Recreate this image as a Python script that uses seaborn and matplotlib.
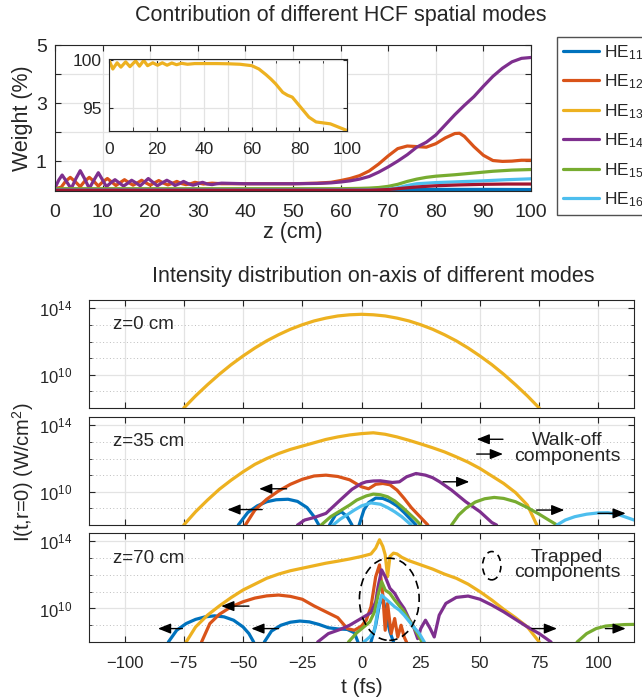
import numpy as np
import pandas as pd
import matplotlib
matplotlib.use("Agg")
import matplotlib.pyplot as plt
from matplotlib.patches import Ellipse
from matplotlib.lines import Line2D
import seaborn as sns

# ---- mode names / colours (MATLAB default order) ----
modes = ["HE11", "HE12", "HE13", "HE14", "HE15", "HE16", "HE17"]
labels = ["HE$_{11}$", "HE$_{12}$", "HE$_{13}$", "HE$_{14}$", "HE$_{15}$", "HE$_{16}$", "HE$_{17}$"]
colors = ["#0072BD", "#D95319", "#EDB120", "#7E2F8E", "#77AC30", "#4DBEEE", "#A2142F"]

# ---- top panel: weight (%) vs z (cm) ----
w11_z = [0, 20, 40, 60, 70, 75, 80, 90, 100]
w11_v = [0.01, 0.01, 0.01, 0.01, 0.015, 0.02, 0.025, 0.025, 0.02]
w12_z = [0, 1.3, 2.2, 3.2, 4.2, 5.3, 6.2, 7.2, 8.2, 9.1, 10.0, 11.0, 11.9, 12.8, 13.7, 14.6, 15.5, 16.4,
         17.3, 18.2, 19.1, 20.0, 20.9, 21.8, 22.8, 23.7, 24.6, 25.6, 26.5, 27.5, 28.5, 29.4, 31.2, 33, 35,
         40, 45, 50, 55, 58, 60, 62, 64, 66, 68, 70, 72, 74, 76, 78, 80, 82, 84, 85, 86, 88, 90, 92, 94, 96, 98, 100]
w12_v = [0.05, 0.1, 0.3, 0.44, 0.3, 0.12, 0.3, 0.44, 0.3, 0.14, 0.28, 0.4, 0.28, 0.16, 0.26, 0.36, 0.26, 0.17,
         0.25, 0.34, 0.25, 0.17, 0.25, 0.33, 0.24, 0.18, 0.23, 0.3, 0.23, 0.19, 0.22, 0.27, 0.21, 0.24, 0.22,
         0.22, 0.22, 0.22, 0.24, 0.27, 0.33, 0.4, 0.5, 0.66, 0.9, 1.18, 1.43, 1.52, 1.5, 1.48, 1.6, 1.8, 1.95, 1.96, 1.85, 1.5, 1.2, 1.02, 0.99, 1.0, 1.03, 1.03]
w13_z = [0, 1.6, 3.4, 5.0, 7.0, 8.8, 11.2, 12.8, 14.6, 16.2, 18.4, 20.4, 22.4, 24.4, 26.4, 28.4, 30.4, 33, 36,
         40, 45, 50, 55, 60, 63, 66, 68, 70, 73, 75, 77, 80, 82, 84, 87, 90, 93, 97, 100]
w13_v = [100.0, 99.05, 99.7, 99.25, 99.8, 99.3, 99.9, 99.35, 99.95, 99.4, 99.7, 99.45, 99.7, 99.45, 99.68, 99.5,
         99.65, 99.55, 99.62, 99.62, 99.62, 99.6, 99.55, 99.4, 99.05, 98.45, 98.0, 97.5, 96.6, 96.3, 96.1, 95.2,
         94.6, 94.0, 93.5, 93.4, 93.3, 92.9, 92.6]
w14_z = [0, 0.8, 1.5, 2.4, 3.4, 4.4, 5.3, 6.2, 7.2, 8.2, 9.1, 10.0, 10.8, 11.7, 12.6, 13.5, 14.4, 15.2, 16.1,
         17.0, 17.9, 18.8, 19.6, 20.5, 21.5, 22.5, 23.5, 24.4, 25.2, 26.1, 27, 28, 29, 30, 31, 32, 33, 34, 35,
         40, 45, 50, 55, 58, 60, 62, 64, 66, 68, 70, 72, 74, 76, 78, 80, 82, 84, 86, 88, 90, 92, 94, 96, 98, 100]
w14_v = [0.08, 0.35, 0.52, 0.3, 0.05, 0.4, 0.67, 0.4, 0.06, 0.35, 0.6, 0.35, 0.12, 0.25, 0.36, 0.25, 0.14, 0.23, 0.34,
         0.25, 0.15, 0.28, 0.4, 0.28, 0.15, 0.25, 0.34, 0.26, 0.16, 0.22, 0.3, 0.22, 0.17, 0.22, 0.27, 0.21, 0.19, 0.22, 0.24,
         0.22, 0.22, 0.22, 0.23, 0.25, 0.28, 0.32, 0.38, 0.47, 0.62, 0.8, 1.0, 1.22, 1.48, 1.65, 1.9, 2.25, 2.6, 2.92, 3.22,
         3.58, 3.92, 4.2, 4.42, 4.54, 4.57]
w15_z = [0, 20, 40, 60, 64, 66, 68, 70, 72, 74, 76, 78, 80, 84, 88, 92, 96, 100]
w15_v = [0.05, 0.05, 0.05, 0.05, 0.06, 0.07, 0.09, 0.13, 0.2, 0.3, 0.38, 0.44, 0.48, 0.53, 0.59, 0.65, 0.69, 0.71]
w16_z = [0, 40, 66, 70, 72, 74, 76, 80, 85, 90, 95, 100]
w16_v = [0.01, 0.01, 0.01, 0.03, 0.08, 0.16, 0.22, 0.26, 0.29, 0.32, 0.36, 0.39]
w17_z = [0, 40, 66, 70, 72, 74, 76, 80, 85, 90, 95, 100]
w17_v = [0.0, 0.0, 0.0, 0.02, 0.05, 0.08, 0.11, 0.15, 0.18, 0.2, 0.21, 0.21]

# ---- bottom panels: log10 intensity vs t (fs) ----
# z = 0 cm
z0_13_t = [-75, -70, -65, -60, -55, -50, -45, -40, -35, -30, -25, -20, -15, -10, -5, 0,
           5, 10, 15, 20, 25, 30, 35, 40, 45, 50, 55, 60, 65, 70, 75]
z0_13_v = [8.0, 8.73, 9.4, 10.03, 10.61, 11.13, 11.61, 12.04, 12.41, 12.74, 13.01, 13.24, 13.41, 13.54, 13.61, 13.64,
           13.61, 13.54, 13.41, 13.24, 13.01, 12.74, 12.41, 12.04, 11.61, 11.13, 10.61, 10.03, 9.4, 8.73, 8.0]

# z = 35 cm
z35_11a_t = [-52, -48, -44, -40, -36, -31, -27, -23, -20, -18]
z35_11a_v = [8.0, 8.75, 9.15, 9.4, 9.52, 9.55, 9.42, 9.05, 8.5, 8.0]
z35_11b_t = [-13.5, -11, -8.5, -6, -4]
z35_11b_v = [8.0, 8.6, 8.8, 8.5, 8.0]
z35_11c_t = [-1, 1, 3, 6, 9, 12, 15, 18, 21, 23]
z35_11c_v = [8.0, 8.9, 9.35, 9.62, 9.6, 9.42, 9.15, 8.75, 8.3, 8.0]
z35_12_t = [-49, -45, -40, -35, -30, -25, -20, -15, -10, -5, 0, 3, 6, 9, 12, 15, 18, 21, 24, 26, 28]
z35_12_v = [8.0, 8.9, 9.55, 10.05, 10.45, 10.75, 10.95, 11.0, 10.92, 10.72, 10.3, 10.18, 10.45, 10.5, 10.42,
            10.1, 9.6, 9.05, 8.6, 8.3, 8.0]
z35_13_t = [-75, -70, -65, -60, -55, -50, -45, -40, -35, -30, -25, -20, -15, -10, -5, 0,
            5, 10, 15, 20, 25, 30, 35, 40, 45, 50, 55, 60, 65, 70, 74]
z35_13_v = [8.0, 8.8, 9.5, 10.15, 10.7, 11.2, 11.65, 12.0, 12.3, 12.55, 12.75, 12.95, 13.15, 13.3, 13.42, 13.5,
            13.55, 13.46, 13.3, 13.1, 12.88, 12.65, 12.4, 12.1, 11.78, 11.4, 10.95, 10.5, 9.95, 9.2, 8.0]
z35_14_t = [-27, -24, -20, -15, -9, -4, 0, 2, 5, 8, 11, 13, 16, 19, 23, 27, 30, 33, 38, 44, 50, 55, 57]
z35_14_v = [8.0, 8.3, 8.45, 8.7, 9.5, 10.15, 10.5, 10.6, 10.65, 10.66, 10.6, 10.56, 10.6, 10.9, 11.1, 11.0,
            10.85, 10.6, 10.1, 9.4, 8.8, 8.15, 8.0]
z35_15a_t = [-17, -13, -9, -5, -2, 2, 5, 8, 11, 14, 17, 20, 23, 25]
z35_15a_v = [8.0, 8.5, 8.85, 9.2, 9.5, 9.75, 9.86, 9.82, 9.7, 9.45, 9.1, 8.7, 8.3, 8.0]
z35_15b_t = [38, 41, 44, 48, 52, 56, 60, 65, 70, 75, 79, 82.5]
z35_15b_v = [8.0, 8.6, 9.0, 9.38, 9.58, 9.66, 9.6, 9.4, 9.05, 8.65, 8.3, 8.0]
z35_16a_t = [-12, -9, -6, -3, 0, 4, 8, 11, 14, 17, 19, 21]
z35_16a_v = [8.0, 8.35, 8.62, 8.9, 9.15, 9.33, 9.25, 9.05, 8.8, 8.5, 8.25, 8.0]
z35_16b_t = [82.5, 86, 90, 95, 100, 104, 108, 112, 115]
z35_16b_v = [8.0, 8.3, 8.5, 8.65, 8.73, 8.74, 8.65, 8.45, 8.3]

# z = 70 cm
z70_11a_t = [-81.5, -78, -74, -70, -66, -62, -58, -54, -50, -47.5, -45.5]
z70_11a_v = [8.0, 8.7, 9.1, 9.35, 9.5, 9.56, 9.5, 9.3, 8.9, 8.5, 8.0]
z70_11b_t = [-41, -38, -34, -30, -26, -22, -18, -14, -10, -6, -3, -1.5]
z70_11b_v = [8.0, 8.65, 9.0, 9.18, 9.25, 9.2, 9.05, 8.85, 8.78, 8.75, 8.55, 8.0]
z70_11c_t = [4, 6, 7.5, 9, 10.5, 12, 13.5]
z70_11c_v = [8.0, 9.0, 10.2, 10.7, 9.5, 8.6, 8.0]
z70_12_t = [-67.5, -64, -60, -55, -50, -45, -40, -35, -30, -25, -20, -15, -10, -6, -3, 0, 2, 4, 6, 7.6,
            9, 10, 11, 12.5, 14, 15.3, 16.7, 18, 19]
z70_12_v = [8.0, 9.1, 9.65, 10.1, 10.4, 10.62, 10.75, 10.8, 10.72, 10.55, 10.15, 9.8, 9.45, 8.8, 8.7, 8.95, 9.3,
            10.1, 11.9, 12.6, 10.8, 8.7, 10.3, 8.5, 9.4, 8.3, 9.0, 8.3, 8.0]
z70_13_t = [-74, -70, -65, -60, -55, -50, -45, -40, -35, -30, -25, -20, -15, -10, -5, 0, 4, 6, 7.6, 9, 10,
            11, 12, 13.5, 15, 17, 20, 25, 30, 35, 40, 45, 50, 55, 60, 65, 70, 75]
z70_13_v = [8.0, 8.9, 9.6, 10.15, 10.65, 11.1, 11.45, 11.8, 12.05, 12.25, 12.4, 12.55, 12.7, 12.82, 12.95, 13.1,
            13.25, 13.6, 14.1, 13.7, 13.2, 11.9, 13.1, 13.3, 13.25, 13.05, 12.85, 12.6, 12.35, 12.05, 11.8, 11.45,
            11.0, 10.5, 9.95, 9.45, 8.9, 8.0]
z70_14_t = [-18.5, -14, -9, -5, -2, 1, 4, 6, 7, 8.5, 10, 12, 14, 16, 18, 20, 22, 23.7, 25, 27, 29, 30.7,
            32.8, 35.6, 40, 45, 50, 55, 60, 65, 70, 75, 80]
z70_14_v = [8.0, 8.5, 8.75, 9.0, 9.25, 9.5, 9.75, 10.4, 11.3, 12.3, 11.9, 11.2, 10.9, 10.4, 10.0, 9.4, 8.9, 8.2,
            8.8, 9.3, 8.8, 8.3, 9.6, 10.3, 10.66, 10.74, 10.55, 10.2, 9.8, 9.35, 8.9, 8.5, 8.0]
z70_15a_t = [-5.5, -2, 1, 3.5, 5.5, 7, 8.5, 10, 12, 14, 16, 18, 20, 22, 24, 25.5]
z70_15a_v = [8.0, 8.55, 8.9, 9.2, 9.8, 10.8, 11.6, 11.1, 10.9, 10.5, 10.15, 9.8, 9.35, 8.9, 8.4, 8.0]
z70_15b_t = [91, 95, 99, 103, 107, 111, 115]
z70_15b_v = [8.0, 8.5, 8.8, 8.95, 9.0, 9.04, 9.05]
z70_16_t = [1, 3.5, 5.5, 7, 8.5, 10, 12, 14, 16, 18, 20, 22, 24.4, 26.5]
z70_16_v = [8.0, 8.3, 8.7, 10.0, 10.8, 10.6, 10.35, 10.1, 9.9, 9.6, 9.25, 8.9, 8.5, 8.0]

# walk-off arrows: tail t, head t, log10 level
z35_arr_tail = [59.7, 48.6, -41.9, -31.6, 34.4, 73.9, 99.8]
z35_arr_head = [48.6, 59.7, -56.6, -43.2, 45.5, 85.6, 111.5]
z35_arr_lev = [13.16, 12.27, 8.93, 10.18, 10.6, 8.9, 8.7]
z70_arr_tail = [-47.5, -75.6, -35.0, 71.9, 102.9]
z70_arr_head = [-59.2, -85.9, -46.5, 82.5, 111.5]
z70_arr_lev = [10.14, 8.8, 8.8, 8.8, 8.8]

panel_names = ["z=0 cm", "z=35 cm", "z=70 cm"]


def long_frame(series, xname):
    rows = []
    for k, (mode, xs, vs) in enumerate(series):
        rows.append(pd.DataFrame({xname: xs, "val": vs, "mode": mode, "seg": k}))
    return pd.concat(rows, ignore_index=True)


sns.set_style("ticks")
plt.rcParams["font.family"] = ["Liberation Sans", "DejaVu Sans"]
plt.rcParams["mathtext.default"] = "regular"
plt.rcParams["axes.edgecolor"] = "#262626"
plt.rcParams["axes.linewidth"] = 0.8

palette = dict(zip(modes, colors))
LW = 2.3
GRID = "#e3e3e3"

fig = plt.figure(figsize=(6.42, 7.0), dpi=100)

# ---------------- top panel ----------------
ax0 = fig.add_axes([55 / 642, 1 - 191 / 700, 476 / 642, 146 / 700])
top = long_frame([("HE11", w11_z, w11_v), ("HE12", w12_z, w12_v), ("HE13", w13_z, w13_v),
                  ("HE14", w14_z, w14_v), ("HE15", w15_z, w15_v), ("HE16", w16_z, w16_v),
                  ("HE17", w17_z, w17_v)], "z")
sns.lineplot(data=top, x="z", y="val", hue="mode", units="seg", estimator=None, palette=palette,
             hue_order=modes, lw=LW, legend=False, ax=ax0, sort=False)
ax0.set_xlim(0, 100)
ax0.set_ylim(-0.03, 5)
ax0.set_xticks(np.arange(0, 101, 10))
ax0.set_yticks([1, 2, 3, 4, 5])
ax0.set_yticklabels(["1", "", "3", "", "5"])
ax0.grid(True, color=GRID, lw=0.9)
ax0.tick_params(direction="in", top=True, right=True, labelsize=14, length=4, pad=6)
ax0.tick_params(axis="x", pad=9)
ax0.set_xlabel("z (cm)", fontsize=15.5, labelpad=1)
ax0.set_ylabel("")
fig.text(23 / 642, 1 - 118 / 700, "Weight (%)", rotation=90, ha="center", va="center", fontsize=15.5)
fig.text(341 / 642, 1 - 15 / 700, "Contribution of different HCF spatial modes",
         ha="center", va="center", fontsize=15.5)

# inset
axi = fig.add_axes([109 / 642, 1 - 131 / 700, 238 / 642, 72 / 700])
ins = long_frame([("HE13", w13_z, w13_v)], "z")
sns.lineplot(data=ins, x="z", y="val", color=colors[2], lw=LW, ax=axi, sort=False, estimator=None)
axi.set_xlim(0, 100)
axi.set_ylim(92.55, 100.1)
axi.set_xticks(np.arange(0, 101, 20))
axi.set_xticks(np.arange(0, 101, 10), minor=True)
axi.set_yticks([95, 100])
axi.grid(True, which="both", color=GRID, lw=0.9)
axi.tick_params(which="both", direction="in", top=True, right=True, labelsize=12.5, length=3, pad=5)
axi.tick_params(axis="x", pad=8)
axi.set_xlabel("")
axi.set_ylabel("")

# legend (partly outside the figure, as in the reference)
handles = [Line2D([], [], color=c, lw=LW) for c in colors[:6]]
fig.legend(handles, labels[:6], loc="upper left", bbox_to_anchor=(557 / 642, 1 - 37 / 700),
           fontsize=12.5, frameon=True, fancybox=False, edgecolor="#262626", handlelength=2.05,
           labelspacing=0.62, borderpad=0.35, handletextpad=0.3, borderaxespad=0)

# ---------------- bottom panels ----------------
z35_series = [("HE11", z35_11a_t, z35_11a_v), ("HE11", z35_11b_t, z35_11b_v), ("HE11", z35_11c_t, z35_11c_v),
              ("HE12", z35_12_t, z35_12_v), ("HE13", z35_13_t, z35_13_v), ("HE14", z35_14_t, z35_14_v),
              ("HE15", z35_15a_t, z35_15a_v), ("HE15", z35_15b_t, z35_15b_v),
              ("HE16", z35_16a_t, z35_16a_v), ("HE16", z35_16b_t, z35_16b_v)]
z70_series = [("HE11", z70_11a_t, z70_11a_v), ("HE11", z70_11b_t, z70_11b_v), ("HE11", z70_11c_t, z70_11c_v),
              ("HE12", z70_12_t, z70_12_v), ("HE13", z70_13_t, z70_13_v), ("HE14", z70_14_t, z70_14_v),
              ("HE15", z70_15a_t, z70_15a_v), ("HE15", z70_15b_t, z70_15b_v), ("HE16", z70_16_t, z70_16_v)]
panels = [[("HE13", z0_13_t, z0_13_v)], z35_series, z70_series]
tops = [300, 417, 533]
bots = [408, 525, 642]

axes = []
for i, series in enumerate(panels):
    ax = fig.add_axes([89 / 642, 1 - bots[i] / 700, 545 / 642, (bots[i] - tops[i]) / 700])
    df = long_frame(series, "t")
    df["I"] = 10.0 ** df["val"]
    sns.lineplot(data=df, x="t", y="I", hue="mode", units="seg", estimator=None, palette=palette,
                 hue_order=modes[:6], lw=LW, legend=False, ax=ax, sort=False)
    ax.set_yscale("log")
    ax.set_xlim(-115, 115)
    ax.set_ylim(1e8, 10 ** 14.5)
    ax.set_xticks(np.arange(-100, 101, 25))
    ax.set_yticks([1e10, 1e14])
    ax.set_yticks([1e9, 1e11, 1e12, 1e13], minor=True)
    ax.yaxis.set_minor_formatter(plt.NullFormatter())
    ax.grid(True, which="major", color=GRID, lw=0.9)
    ax.grid(True, which="minor", axis="y", color="#bdbdbd", lw=0.7, ls=(0, (1, 2.5)))
    ax.tick_params(which="both", direction="in", top=True, right=True, labelsize=12, length=4)
    ax.tick_params(axis="y", pad=12)
    ax.tick_params(axis="x", pad=10)
    ax.tick_params(which="minor", length=2)
    ax.set_xlabel("")
    ax.set_ylabel("")
    if i < 2:
        ax.set_xticklabels([])
    ax.text(-105, 10 ** 13.0, panel_names[i], fontsize=13.5, va="center", ha="left")
    axes.append(ax)

axes[2].set_xlabel("t (fs)", fontsize=15, labelpad=5)
fig.text(373 / 642, 1 - 276 / 700, "Intensity distribution on-axis of different modes",
         ha="center", va="center", fontsize=15.5)
fig.text(23 / 642, 1 - 472 / 700, "I(t,r=0) (W/cm$^2$)", rotation=90, ha="center", va="center", fontsize=14.5)

arrow_kw = dict(arrowstyle="-|>,head_length=0.55,head_width=0.22", color="k", lw=1.0,
                shrinkA=0, shrinkB=0, mutation_scale=14)
for tail, head, lev in zip(z35_arr_tail, z35_arr_head, z35_arr_lev):
    axes[1].annotate("", xy=(head, 10 ** lev), xytext=(tail, 10 ** lev), arrowprops=arrow_kw)
for tail, head, lev in zip(z70_arr_tail, z70_arr_head, z70_arr_lev):
    axes[2].annotate("", xy=(head, 10 ** lev), xytext=(tail, 10 ** lev), arrowprops=arrow_kw)

axes[1].text(86.7, 10 ** 12.6, "Walk-off\ncomponents", ha="center", va="center", fontsize=14, linespacing=0.9)
axes[2].text(86.7, 10 ** 12.6, "Trapped\ncomponents", ha="center", va="center", fontsize=14, linespacing=0.9)

axes[2].add_patch(Ellipse((0.551, 0.392), 0.1096, 0.754, transform=axes[2].transAxes, fill=False,
                          ls=(0, (5, 3)), lw=1.2, ec="k", zorder=5))
axes[2].add_patch(Ellipse((0.739, 0.70), 0.0335, 0.26, transform=axes[2].transAxes, fill=False,
                          ls=(0, (4, 3)), lw=1.2, ec="k", zorder=5))

fig.savefig("out.png", dpi=100)
